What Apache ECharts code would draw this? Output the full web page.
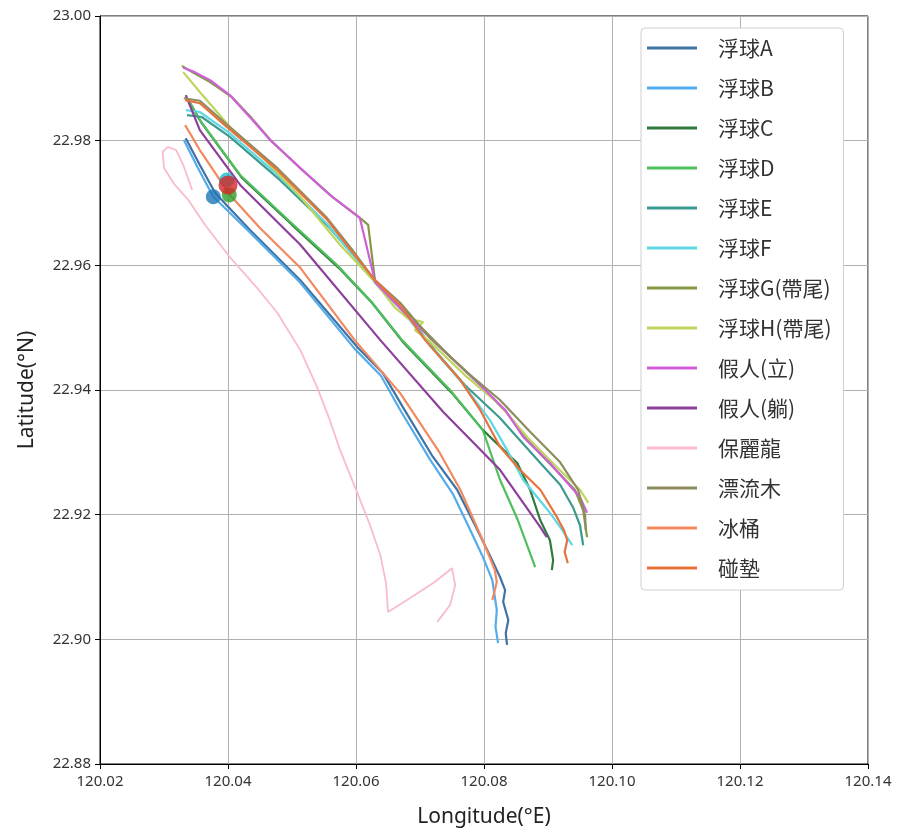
<!DOCTYPE html>
<html>
<head>
<meta charset="utf-8">
<script src="https://cdn.jsdelivr.net/npm/echarts@6/dist/echarts.min.js"></script>
<style>
  html, body { margin: 0; padding: 0; background: #fff; }
  #chart { width: 901px; height: 836px; }
</style>
</head>
<body>
<div id="chart"></div>
<script>
// Drift tracks, each point is [longitude °E, latitude °N]
const trackA = [[120.0334,22.9804],[120.0356,22.9761],[120.0380,22.9716],[120.0434,22.9657],[120.0513,22.9576],[120.0602,22.9469],[120.0642,22.9427],[120.0673,22.9373],[120.0720,22.9293],[120.0758,22.9240],[120.0786,22.9183],[120.0809,22.9135],[120.0825,22.9100],[120.0833,22.9079],[120.0830,22.9060],[120.0838,22.9031],[120.0834,22.9010],[120.0836,22.8991]];
const trackB = [[120.0331,22.9801],[120.0353,22.9756],[120.0377,22.9710],[120.0434,22.9653],[120.0513,22.9572],[120.0598,22.9466],[120.0639,22.9423],[120.0669,22.9368],[120.0716,22.9288],[120.0752,22.9232],[120.0775,22.9183],[120.0797,22.9135],[120.0813,22.9095],[120.0820,22.9047],[120.0818,22.9020],[120.0822,22.8994]];
const trackC = [[120.0341,22.9860],[120.0359,22.9828],[120.0422,22.9740],[120.0500,22.9665],[120.0573,22.9596],[120.0625,22.9540],[120.0675,22.9475],[120.0750,22.9395],[120.0798,22.9336],[120.0852,22.9283],[120.0872,22.9240],[120.0888,22.9191],[120.0903,22.9159],[120.0908,22.9127],[120.0906,22.9111]];
const trackD = [[120.0338,22.9865],[120.0356,22.9833],[120.0419,22.9745],[120.0497,22.9670],[120.0570,22.9601],[120.0622,22.9544],[120.0672,22.9480],[120.0747,22.9400],[120.0798,22.9336],[120.0825,22.9256],[120.0853,22.9191],[120.0880,22.9116]];
const trackE = [[120.0336,22.9841],[120.0359,22.9838],[120.0403,22.9806],[120.0481,22.9737],[120.0559,22.9660],[120.0602,22.9609],[120.0636,22.9565],[120.0677,22.9524],[120.0723,22.9464],[120.0770,22.9408],[120.0825,22.9355],[120.0888,22.9283],[120.0919,22.9248],[120.0939,22.9212],[120.0950,22.9183],[120.0955,22.9151]];
const trackF = [[120.0334,22.9849],[120.0356,22.9846],[120.0400,22.9814],[120.0478,22.9745],[120.0556,22.9665],[120.0598,22.9613],[120.0633,22.9568],[120.0672,22.9528],[120.0719,22.9467],[120.0766,22.9411],[120.0809,22.9352],[120.0836,22.9304],[120.0861,22.9256],[120.0903,22.9203],[120.0919,22.9180],[120.0938,22.9151]];
const trackG = [[120.0328,22.9920],[120.0344,22.9910],[120.0372,22.9894],[120.0406,22.9870],[120.0438,22.9835],[120.0469,22.9798],[120.0516,22.9753],[120.0563,22.9710],[120.0606,22.9676],[120.0619,22.9665],[120.0630,22.9573],[120.0688,22.9515],[120.0742,22.9459],[120.0797,22.9405],[120.0836,22.9363],[120.0867,22.9320],[120.0908,22.9276],[120.0942,22.9240],[120.0955,22.9207],[120.0961,22.9164]];
const trackH = [[120.0330,22.9910],[120.0356,22.9878],[120.0403,22.9822],[120.0458,22.9769],[120.0513,22.9710],[120.0575,22.9633],[120.0630,22.9573],[120.0661,22.9532],[120.0681,22.9515],[120.0705,22.9509],[120.0692,22.9496],[120.0713,22.9480],[120.0770,22.9424],[120.0825,22.9376],[120.0867,22.9325],[120.0914,22.9276],[120.0950,22.9240],[120.0963,22.9219]];
const trackStand = [[120.0330,22.9917],[120.0348,22.9910],[120.0372,22.9897],[120.0403,22.9873],[120.0434,22.9838],[120.0466,22.9801],[120.0513,22.9756],[120.0559,22.9713],[120.0606,22.9676],[120.0630,22.9573],[120.0684,22.9515],[120.0739,22.9461],[120.0794,22.9408],[120.0833,22.9368],[120.0861,22.9325],[120.0903,22.9283],[120.0950,22.9228],[120.0961,22.9203]];
const trackLie = [[120.0334,22.9873],[120.0356,22.9817],[120.0419,22.9729],[120.0513,22.9633],[120.0638,22.9480],[120.0736,22.9365],[120.0825,22.9272],[120.0888,22.9180],[120.0898,22.9164]];
const trackFoam = [[120.0344,22.9721],[120.0330,22.9761],[120.0319,22.9785],[120.0306,22.9790],[120.0298,22.9782],[120.0300,22.9756],[120.0317,22.9729],[120.0338,22.9705],[120.0364,22.9665],[120.0403,22.9613],[120.0442,22.9568],[120.0477,22.9524],[120.0513,22.9464],[120.0539,22.9405],[120.0559,22.9352],[120.0575,22.9304],[120.0602,22.9235],[120.0622,22.9183],[120.0638,22.9135],[120.0647,22.9090],[120.0650,22.9044],[120.0684,22.9066],[120.0723,22.9092],[120.0750,22.9114],[120.0755,22.9087],[120.0747,22.9055],[120.0727,22.9028]];
const trackWood = [[120.0331,22.9868],[120.0356,22.9864],[120.0397,22.9827],[120.0475,22.9758],[120.0553,22.9678],[120.0594,22.9625],[120.0628,22.9578],[120.0669,22.9540],[120.0716,22.9483],[120.0775,22.9427],[120.0825,22.9384],[120.0872,22.9333],[120.0919,22.9284],[120.0947,22.9240],[120.0958,22.9199],[120.0959,22.9175]];
const trackBucket = [[120.0333,22.9825],[120.0356,22.9785],[120.0403,22.9713],[120.0450,22.9660],[120.0513,22.9596],[120.0598,22.9480],[120.0669,22.9395],[120.0731,22.9299],[120.0763,22.9240],[120.0798,22.9159],[120.0817,22.9111],[120.0820,22.9092],[120.0813,22.9063]];
const trackFender = [[120.0333,22.9865],[120.0356,22.9860],[120.0398,22.9822],[120.0477,22.9753],[120.0555,22.9673],[120.0595,22.9620],[120.0630,22.9576],[120.0669,22.9536],[120.0708,22.9480],[120.0763,22.9416],[120.0794,22.9368],[120.0825,22.9309],[120.0856,22.9272],[120.0888,22.9240],[120.0914,22.9196],[120.0925,22.9175],[120.0930,22.9159],[120.0926,22.9140],[120.0931,22.9122]];

// Release positions
const startPoints = [[120.0398,22.9737],[120.0377,22.9710],[120.0402,22.9713],[120.0400,22.9729]];

const trackNames = ['浮球A','浮球B','浮球C','浮球D','浮球E','浮球F','浮球G(帶尾)','浮球H(帶尾)','假人(立)','假人(躺)','保麗龍','漂流木','冰桶','碰墊'];
const tracks = [trackA, trackB, trackC, trackD, trackE, trackF, trackG, trackH, trackStand, trackLie, trackFoam, trackWood, trackBucket, trackFender];
const xTicks = { min: 120.02, max: 120.14, step: 0.02 };
const yTicks = { min: 22.88, max: 23.00, step: 0.02 };

const trackColors = ['#3f73a3','#55acea','#2f7a3d','#4fc05c','#3c9b8e','#5fd8e4','#869a45','#bdd65e','#cf5fdb','#8e3f9c','#f8bccb','#8e8c5f','#f2895f','#e6733d'];
const startColors = ['#17becf','#1f77b4','#2ca02c','#d62728'];

const chart = echarts.init(document.getElementById('chart'), null, { renderer: 'canvas' });

const series = tracks.map((t, i) => ({
  name: trackNames[i],
  type: 'line',
  data: t,
  symbol: 'none',
  showSymbol: false,
  smooth: false,
  lineStyle: { color: trackColors[i], width: i === 10 ? 1.8 : 2.2 },
  itemStyle: { color: trackColors[i] },
  emphasis: { disabled: true },
  z: 3
}));

series.push({
  type: 'scatter',
  data: startPoints.map((p, i) => ({ value: p, itemStyle: { color: startColors[i] } })),
  symbolSize: (v, p) => (p.dataIndex === 3 ? 19 : 15),
  z: 5,
  silent: true
});

const fontLatin = '"Noto Sans", "Noto Sans CJK TC", sans-serif';
const fontCJK = '"Noto Sans CJK TC", "Noto Sans", sans-serif';

chart.setOption({
  animation: false,
  backgroundColor: '#fff',
  grid: {
    left: 100, right: 33, top: 16, bottom: 72,
    show: true, borderColor: '#000', borderWidth: 1, backgroundColor: 'transparent'
  },
  legend: {
    orient: 'vertical',
    left: 641, top: 28,
    padding: [8, 12, 10, 6],
    icon: 'rect',
    itemWidth: 50, itemHeight: 3, itemGap: 16,
    backgroundColor: '#fff',
    borderColor: '#d0d0d0', borderWidth: 1, borderRadius: 4,
    data: trackNames,
    textStyle: { fontFamily: fontCJK, fontSize: 21, color: '#333', lineHeight: 24, padding: [0, 0, 0, 16] }
  },
  xAxis: {
    type: 'value',
    min: xTicks.min, max: xTicks.max, interval: xTicks.step,
    name: 'Longitude(°E)', nameLocation: 'middle', nameGap: 43,
    nameTextStyle: { fontFamily: fontLatin, fontSize: 21, color: '#222' },
    axisLine: { show: true, onZero: false, lineStyle: { color: '#000', width: 1 } },
    axisTick: { show: true, inside: false, length: 5, lineStyle: { color: '#000' } },
    axisLabel: { margin: 10, fontFamily: fontLatin, fontSize: 15, color: '#333', formatter: v => v.toFixed(2) },
    splitLine: { show: true, lineStyle: { color: '#b0b0b0', width: 1 } }
  },
  yAxis: {
    type: 'value',
    min: yTicks.min, max: yTicks.max, interval: yTicks.step,
    name: 'Latitude(°N)', nameLocation: 'middle', nameGap: 62, nameRotate: 90,
    nameTextStyle: { fontFamily: fontLatin, fontSize: 21, color: '#222' },
    axisLine: { show: true, onZero: false, lineStyle: { color: '#000', width: 1 } },
    axisTick: { show: true, inside: false, length: 5, lineStyle: { color: '#000' } },
    axisLabel: { margin: 9, fontFamily: fontLatin, fontSize: 15, color: '#333', formatter: v => v.toFixed(2) },
    splitLine: { show: true, lineStyle: { color: '#b0b0b0', width: 1 } }
  },
  series: series
});
</script>
</body>
</html>
